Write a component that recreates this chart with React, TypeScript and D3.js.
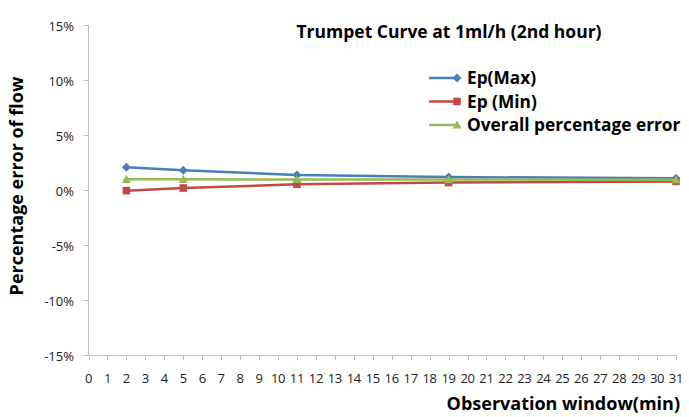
import React from "react";
import * as d3 from "d3";

const windows = [2, 5, 11, 19, 31];
const epMax = [2.07, 1.8, 1.36, 1.18, 1.06];
const epMin = [-0.06, 0.18, 0.52, 0.68, 0.78];
const overall = [0.97, 0.97, 0.96, 0.95, 0.93];
const yTicks = [-15, -10, -5, 0, 5, 10, 15];
const xTicks = d3.range(0, 32);

const series = [
  { name: "Ep(Max)", values: epMax, color: "#4a7ebb", marker: "diamond" },
  { name: "Ep (Min)", values: epMin, color: "#be4b48", marker: "square" },
  { name: "Overall percentage error", values: overall, color: "#98b954", marker: "triangle" },
];

const W = 689;
const H = 417;
const x = d3.scaleLinear().domain([0, 31]).range([88.5, 676]);
const y = d3.scaleLinear().domain([-15, 15]).range([355, 25]);
const font = "'Open Sans', sans-serif";

function Marker({ type, cx, cy, color }: { type: string; cx: number; cy: number; color: string }) {
  if (type === "diamond") {
    const s = 4.5;
    return <path d={`M${cx},${cy - s}L${cx + s},${cy}L${cx},${cy + s}L${cx - s},${cy}Z`} fill={color} />;
  }
  if (type === "square") {
    const s = 3.8;
    return <rect x={cx - s} y={cy - s} width={2 * s} height={2 * s} fill={color} />;
  }
  const s = 4.5;
  return <path d={`M${cx},${cy - s}L${cx + s},${cy + s * 0.8}L${cx - s},${cy + s * 0.8}Z`} fill={color} />;
}

export default function App() {
  const line = d3
    .line<number>()
    .x((_, i) => x(windows[i]))
    .y((v) => y(v));
  return (
    <svg width={W} height={H} style={{ position: "absolute", left: 0, top: 0, background: "#fff" }}>
      <rect width={W} height={H} fill="#fff" />
      {/* y axis */}
      <line x1={88.5} x2={88.5} y1={25} y2={355} stroke="#bfbfbf" />
      {yTicks.map((t) => (
        <g key={t}>
          <line x1={83.5} x2={88.5} y1={y(t) + 0.5} y2={y(t) + 0.5} stroke="#bfbfbf" />
          <text x={74} y={y(t) + 1} dy="0.35em" textAnchor="end" fontFamily={font} fontSize={13} fill="#222">
            {t}%
          </text>
        </g>
      ))}
      {/* x axis */}
      <line x1={88.5} x2={676.5} y1={355.5} y2={355.5} stroke="#bfbfbf" />
      {xTicks.map((t) => (
        <g key={t}>
          <line x1={Math.round(x(t)) + 0.5} x2={Math.round(x(t)) + 0.5} y1={355} y2={360} stroke="#bfbfbf" />
          <text x={x(t)} y={378} dy="0.35em" textAnchor="middle" fontFamily={font} fontSize={13} letterSpacing={-0.3} fill="#222">
            {t}
          </text>
        </g>
      ))}
      {/* series */}
      {series.map((s) => (
        <g key={s.name}>
          <path d={line(s.values) || ""} fill="none" stroke={s.color} strokeWidth={2.5} />
          {s.values.map((v, i) => (
            <Marker key={i} type={s.marker} cx={x(windows[i])} cy={y(v)} color={s.color} />
          ))}
        </g>
      ))}
      {/* title */}
      <text x={449} y={32} dy="0.35em" textAnchor="middle" fontFamily={font} fontWeight="bold" fontSize={17.5} fill="#000">
        Trumpet Curve at 1ml/h (2nd hour)
      </text>
      {/* legend */}
      {series.map((s, i) => {
        const ly = 78 + i * 23.5;
        return (
          <g key={s.name}>
            <line x1={429} x2={457} y1={ly} y2={ly} stroke={s.color} strokeWidth={2.5} />
            <Marker type={s.marker} cx={457} cy={ly} color={s.color} />
            <text x={467} y={ly} dy="0.35em" fontFamily={font} fontWeight="bold" fontSize={17.3} fill="#000">
              {s.name}
            </text>
          </g>
        );
      })}
      {/* axis titles */}
      <text
        transform="translate(17,186) rotate(-90)"
        textAnchor="middle"
        dy="0.35em"
        fontFamily={font}
        fontWeight="bold"
        fontSize={18}
        fill="#000"
      >
        Percentage error of flow
      </text>
      <text x={680} y={404} dy="0.35em" textAnchor="end" fontFamily={font} fontWeight="bold" fontSize={18} fill="#000">
        Observation window(min)
      </text>
    </svg>
  );
}
